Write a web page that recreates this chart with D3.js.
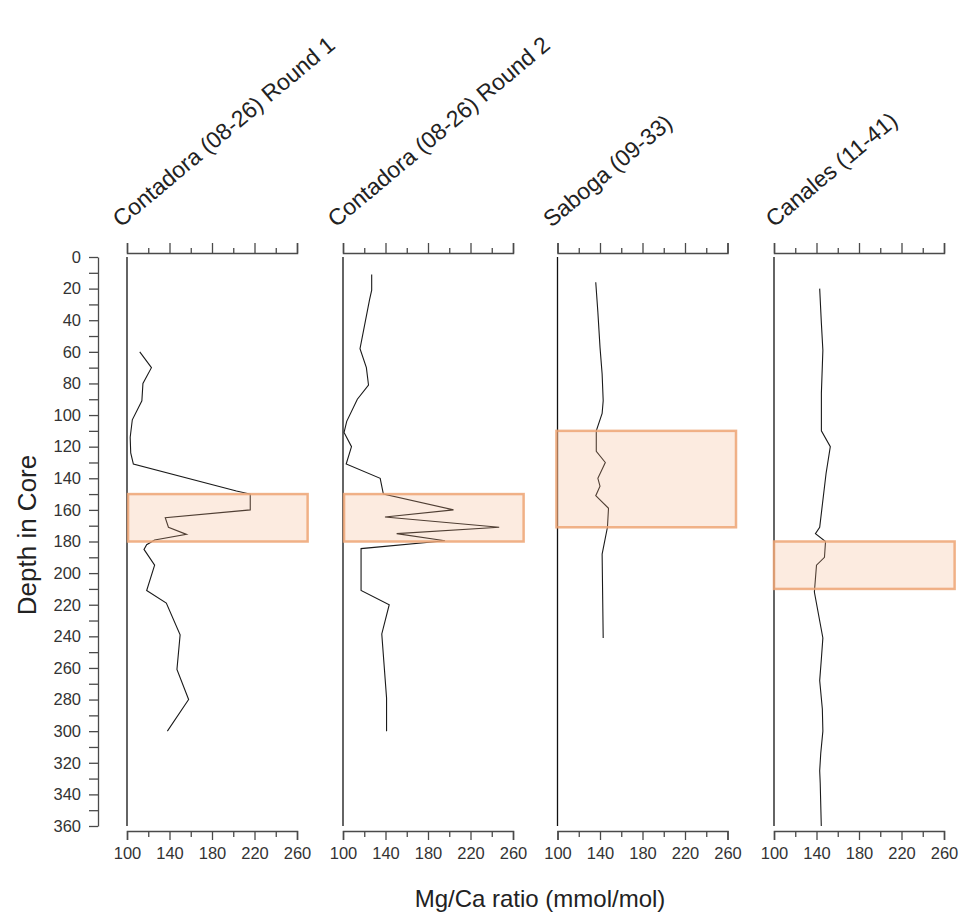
<!DOCTYPE html>
<html>
<head>
<meta charset="utf-8">
<script src="https://cdn.jsdelivr.net/npm/d3@7"></script>
<style>
  html, body { margin: 0; padding: 0; background: #fff; }
  svg { display: block; font-family: "Liberation Sans", Arial, sans-serif; }
  .num { font-family: "Liberation Sans Narrow", "Arial Narrow", "Liberation Sans", Arial, sans-serif; }
</style>
</head>
<body>
<svg id="chart" width="961" height="918"></svg>
<script>
// Core names, one per panel
const cores = [
  "Contadora (08-26) Round 1",
  "Contadora (08-26) Round 2",
  "Saboga (09-33)",
  "Canales (11-41)"
];

// [depth in core, Mg/Ca ratio] per core
const round1 = [
  [60,112],[70,123],[80,115],[91,114],[103,105],[114,103],[124,103.5],[131,106],
  [148,203],[150,216],[160,216],[165,136],[171,139],[175.5,156],[179,126],[182,118.5],
  [185,116],[195,126],[211,118.5],[219,137],[239,150],[261,147],[280,158],[300,138]
];
const round2 = [
  [11,127],[21,127],[27,125],[58,116],[70,122],[81,124],[90,113.5],[104,103.5],
  [111,101],[120,108],[131,103],[140,135],[150,138],[160,204],[164.5,139.5],[171,247],
  [175,150.5],[179.5,196],[184.5,117],[211,117],[220,143.5],[238.5,136.5],[279,141],[300,141]
];
const saboga = [
  [16,136],[35,138],[57,140],[74,142],[91,143],[99,142],[110,136.5],[123,136.5],
  [130,145],[140,138],[145,140],[151,136],[159,148],[171,147],[188,142],[241,143]
];
const canales = [
  [20,143],[42,144.6],[59,146],[86,144.6],[110,144.6],[120,153],[137,149],[171,143],
  [175,139],[180,148.5],[190,147.5],[195,140],[212,138],[241,146],[255,144.5],[268,143],
  [286,145.5],[300,146],[314,144],[325,143],[333,143.5],[360,144.5]
];
const series = [round1, round2, saboga, canales];

// Highlighted depth intervals [top, bottom] and ratio span [from, to]
const bandDepths = [[150,180],[150,180],[110,171],[180,210]];
const bandRatios = [[101,270],[101,270],[99,268],[100,270]];

// Axis ticks
const depthTicks = d3.range(0, 361, 10);
const depthLabels = d3.range(0, 361, 20);
const ratioTicks = d3.range(100, 261, 20);
const ratioLabels = [100, 140, 180, 220, 260];

const svg = d3.select("#chart");
const y = d3.scaleLinear().domain([0, 360]).range([257, 826]);
const panelLefts = [127, 343, 557.5, 774];
const titleShift = [-6, -7, -6, 0];
const panelW = 170;
const axisTop = 253, axisBottom = 831;
const axisColor = "#4a4a4a", textColor = "#333";

// Shared depth axis
const yAxisX = 98;
const yAxis = d3.axisLeft(y).tickValues(depthTicks).tickSize(9).tickSizeOuter(0)
  .tickFormat(d => depthLabels.includes(d) ? d : "");
const gy = svg.append("g").attr("transform", `translate(${yAxisX},0)`).call(yAxis);
gy.select(".domain").attr("stroke", axisColor).attr("stroke-width", 1.3);
gy.selectAll(".tick line").attr("stroke", axisColor).attr("stroke-width", 1.3);
gy.selectAll(".tick text").attr("class", "num").attr("fill", textColor)
  .attr("font-size", 16.5).attr("x", -17);

svg.append("text")
  .attr("transform", `translate(36,535) rotate(-90)`)
  .attr("text-anchor", "middle")
  .attr("font-size", 26)
  .attr("fill", "#222")
  .text("Depth in Core");

svg.append("text")
  .attr("x", 540).attr("y", 907)
  .attr("text-anchor", "middle")
  .attr("font-size", 24)
  .attr("fill", "#222")
  .text("Mg/Ca ratio (mmol/mol)");

const line = d3.line();

series.forEach((data, i) => {
  const x = d3.scaleLinear().domain([100, 260]).range([panelLefts[i], panelLefts[i] + panelW]);
  const g = svg.append("g");

  // Top ratio axis (ticks only)
  const top = d3.axisTop(x).tickValues(ratioTicks).tickSizeOuter(0).tickFormat("")
    .tickSize(10);
  const gt = g.append("g").attr("transform", `translate(0,${axisTop})`).call(top);
  gt.select(".domain").attr("stroke", axisColor).attr("stroke-width", 1.5);
  gt.selectAll(".tick line").attr("stroke", axisColor).attr("stroke-width", 1.3)
    .attr("y2", d => ratioLabels.includes(d) ? -10 : -5);

  // Bottom ratio axis
  const bottom = d3.axisBottom(x).tickValues(ratioTicks).tickSizeOuter(0)
    .tickFormat(d => ratioLabels.includes(d) ? d : "").tickSize(9);
  const gb = g.append("g").attr("transform", `translate(0,${axisBottom})`).call(bottom);
  gb.select(".domain").attr("stroke", axisColor).attr("stroke-width", 1.5);
  gb.selectAll(".tick line").attr("stroke", axisColor).attr("stroke-width", 1.3)
    .attr("y2", d => ratioLabels.includes(d) ? 9 : 6);
  gb.selectAll(".tick text").attr("class", "num").attr("fill", textColor)
    .attr("font-size", 16.5).attr("y", 16);

  // Panel baseline at ratio 100
  g.append("line")
    .attr("x1", x(100)).attr("x2", x(100))
    .attr("y1", y(0)).attr("y2", y(360))
    .attr("stroke", "#111").attr("stroke-width", 1.3);

  // Data trace
  line.x(d => x(d[1])).y(d => y(d[0]));
  g.append("path")
    .datum(data)
    .attr("d", line)
    .attr("fill", "none")
    .attr("stroke", "#1a1a1a")
    .attr("stroke-width", 1.1);

  // Highlight band
  const [d0, d1] = bandDepths[i];
  const [r0, r1] = bandRatios[i];
  g.append("rect")
    .attr("x", x(r0)).attr("y", y(d0))
    .attr("width", x(r1) - x(r0)).attr("height", y(d1) - y(d0))
    .attr("fill", "#f4b183").attr("fill-opacity", 0.25)
    .attr("stroke", "#eda574").attr("stroke-opacity", 0.85).attr("stroke-width", 2.5);

  // Panel title
  svg.append("text")
    .attr("transform", `translate(${panelLefts[i] + titleShift[i]},228) rotate(-40)`)
    .attr("font-size", 23)
    .attr("fill", "#222")
    .text(cores[i]);
});
</script>
</body>
</html>
